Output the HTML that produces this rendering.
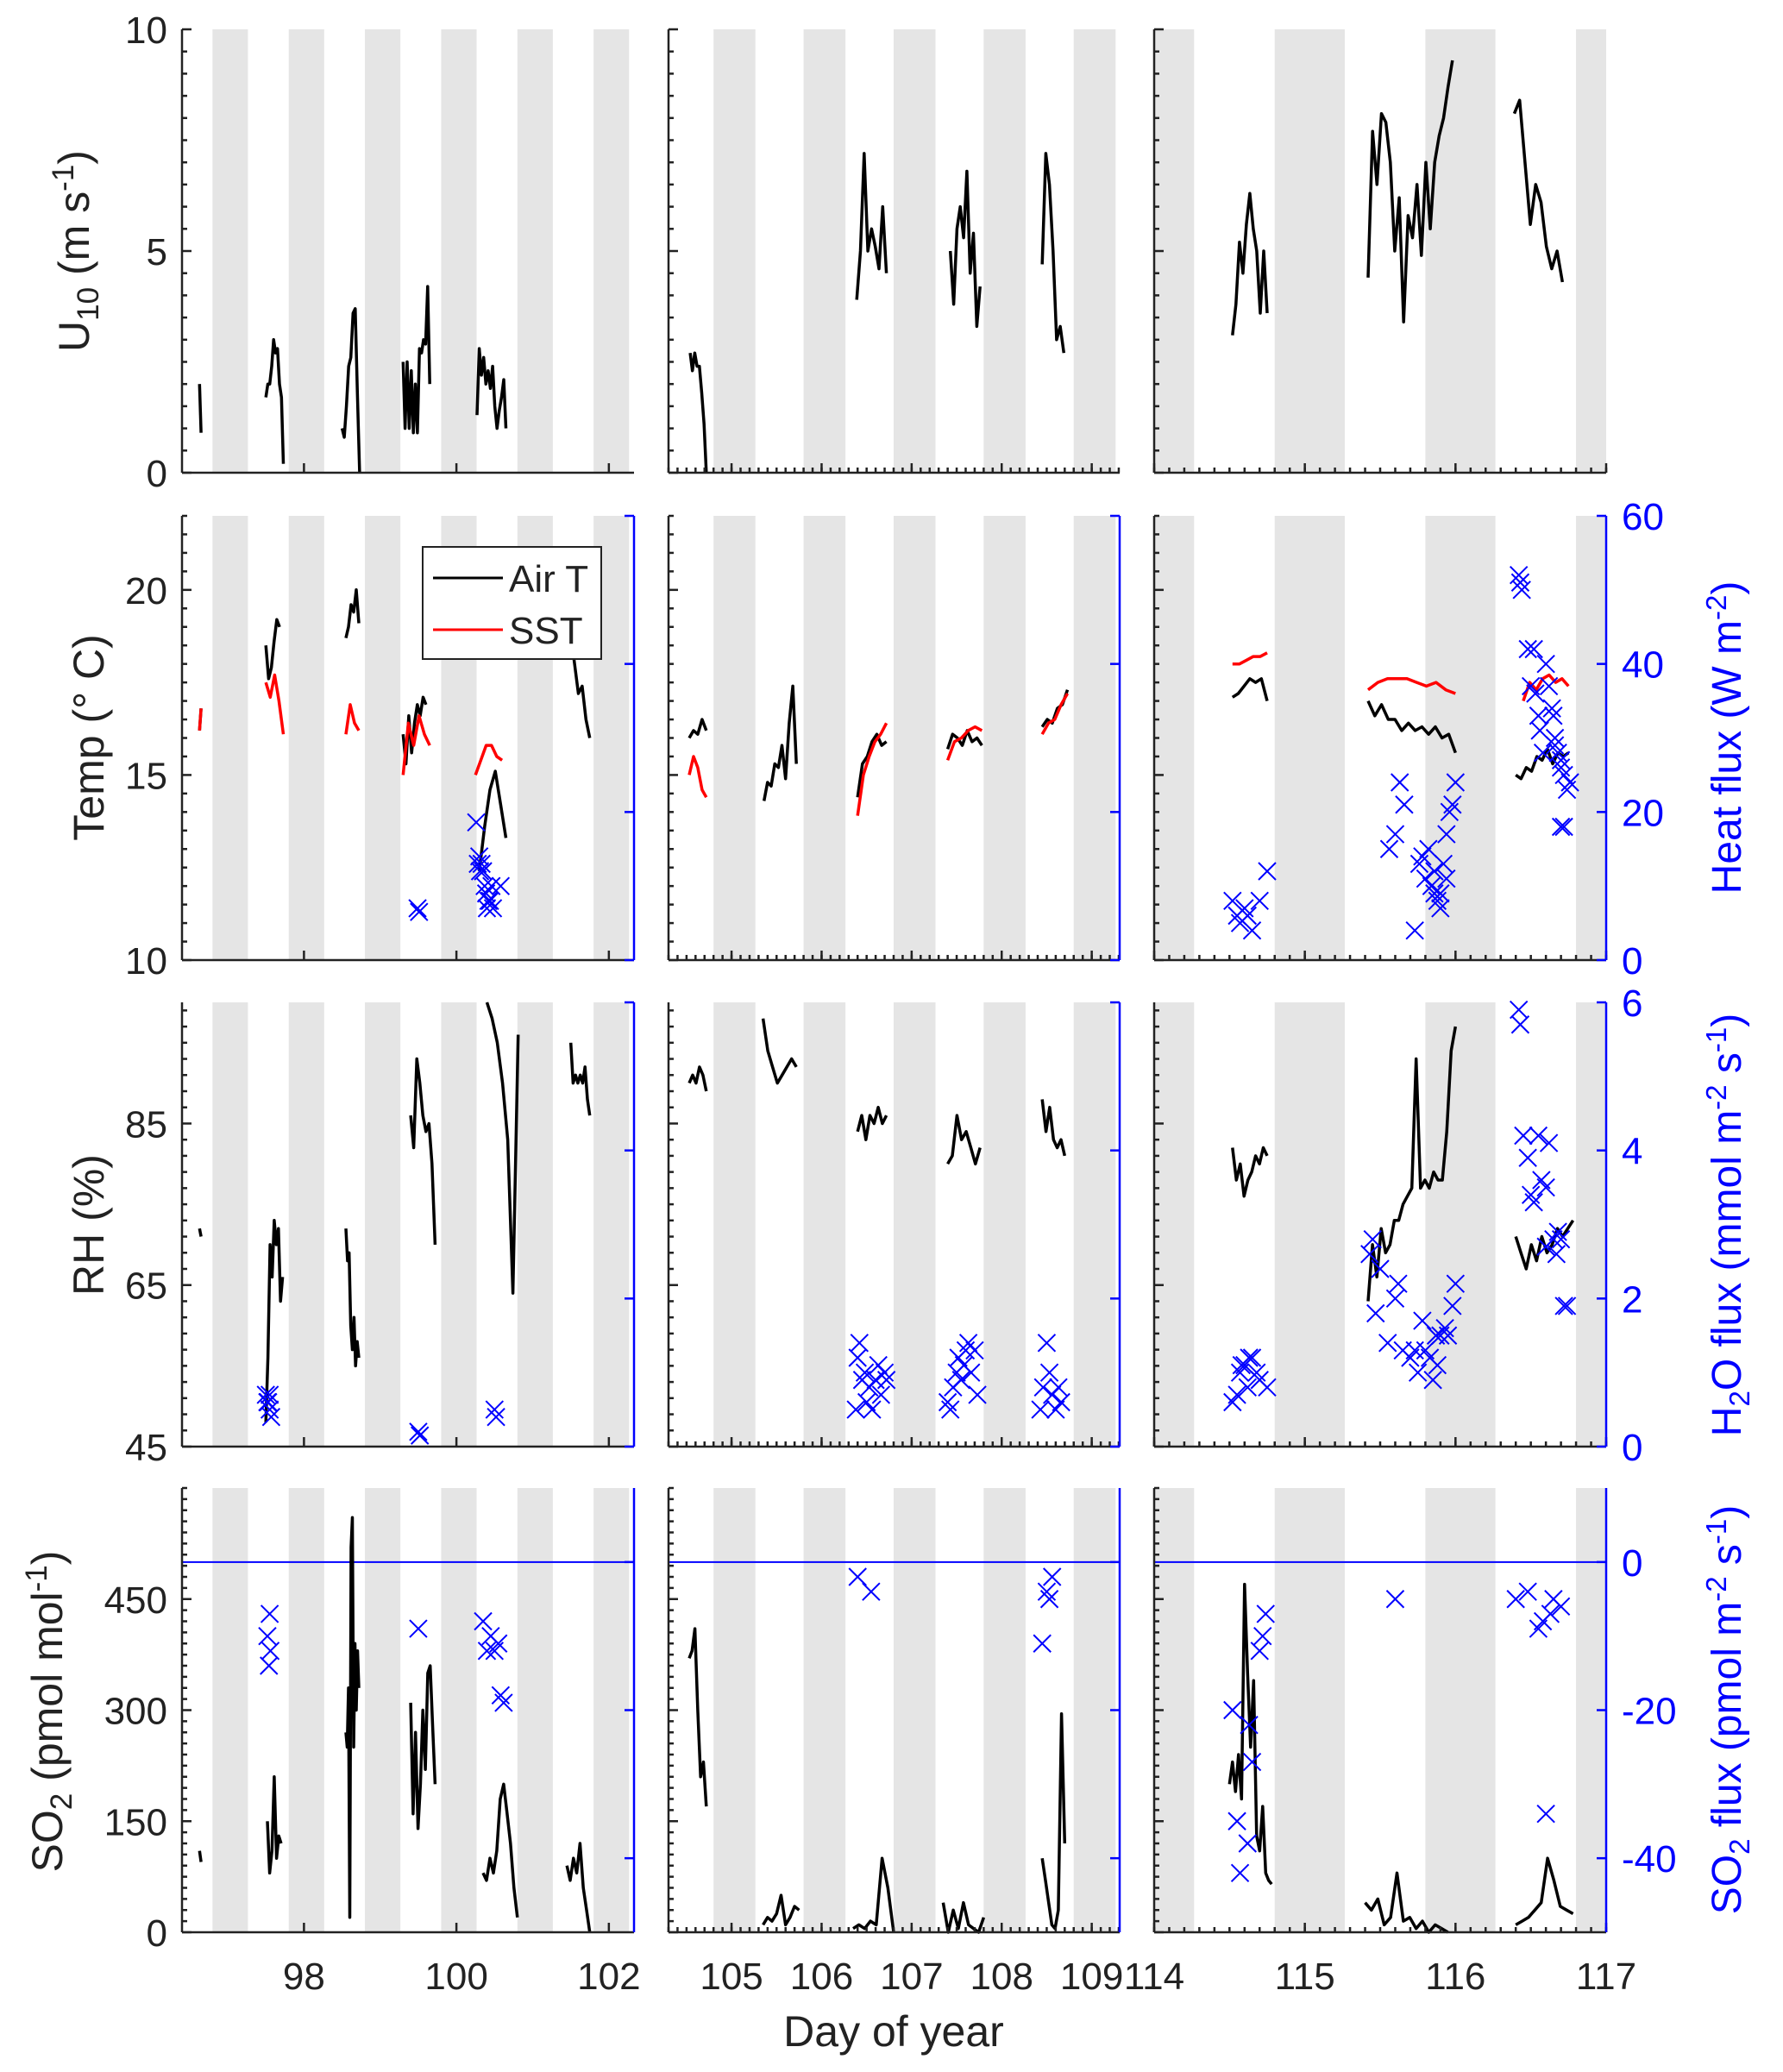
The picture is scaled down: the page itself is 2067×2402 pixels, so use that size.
<!DOCTYPE html>
<html><head><meta charset="utf-8"><style>
html,body{margin:0;padding:0;background:#fff}
svg{display:block;font-family:"Liberation Sans",Arial,sans-serif}
</style></head><body>
<svg id="fig" width="2067" height="2402" viewBox="0 0 2067 2402" xmlns="http://www.w3.org/2000/svg"></svg>
<script>
// ---- data: segments [startDay, endDay, values] ----
const u10Col1 = [[96.63,96.65,[2.0,0.9]],[97.5,97.73,[1.7,2.0,2.0,2.4,3.0,2.7,2.8,2.0,1.7,0.2]],[98.5,98.73,[1.0,0.8,1.5,2.4,2.6,3.6,3.7,1.8,0]],[99.3,99.65,[2.5,1.0,2.5,1.0,2.3,0.9,2.0,0.9,2.8,2.7,3.0,2.9,4.2,2.0]],[100.27,100.65,[1.3,2.8,2.2,2.6,2.0,2.3,1.9,2.4,1.5,1.0,1.4,1.7,2.1,1.0]]];
const u10Col2 = [[104.54,104.72,[2.7,2.3,2.7,2.4,2.4,1.8,1.1,0.0]],[106.39,106.72,[3.9,5.0,7.2,5.0,5.5,5.1,4.6,6.0,4.5]],[107.43,107.76,[5.0,3.8,5.5,6.0,5.3,6.8,4.5,5.4,3.3,4.2]],[108.45,108.69,[4.7,7.2,6.5,5.0,3.0,3.3,2.7]]];
const u10Col3 = [[114.52,114.75,[3.1,3.8,5.2,4.5,5.6,6.3,5.5,5.0,3.6,5.0,3.6]],[115.42,115.98,[4.4,7.7,6.5,8.1,7.9,7.0,5.0,6.2,3.4,5.8,5.3,6.5,4.9,7.0,5.5,7.0,7.6,8.0,8.7,9.3]],[116.39,116.71,[8.1,8.4,7.0,5.6,6.5,6.1,5.1,4.6,5.0,4.3]]];

const airCol1 = [[96.63,96.65,[16.2,16.8]],[97.5,97.68,[18.5,17.6,17.9,18.6,19.2,19.0]],[98.55,98.72,[18.7,19.0,19.6,19.4,20.0,19.1]],[99.3,99.6,[16.1,15.3,16.6,15.6,16.4,16.9,16.6,17.1,16.9]],[100.3,100.65,[12.4,13.6,14.6,15.1,14.2,13.3]],[101.5,101.75,[18.8,18.0,17.2,17.4,16.5,16.0]]];
const sstCol1 = [[96.63,96.65,[16.2,16.8]],[97.5,97.73,[17.5,17.1,17.7,17.0,16.1]],[98.55,98.72,[16.1,16.9,16.4,16.2]],[99.3,99.65,[15.0,16.4,15.8,16.6,16.1,15.8]],[100.25,100.6,[15.0,15.4,15.8,15.8,15.5,15.4]]];
const airCol2 = [[104.53,104.72,[16.0,16.2,16.1,16.5,16.2]],[105.36,105.72,[14.3,14.8,14.7,15.3,15.2,15.8,14.9,16.4,17.4,15.3]],[106.4,106.72,[14.4,15.3,15.5,15.9,16.1,15.8,15.9]],[107.4,107.78,[15.7,16.1,16.0,15.8,16.2,15.9,16.0,15.8]],[108.45,108.73,[16.3,16.5,16.4,16.8,16.9,17.3]]];
const sstCol2 = [[104.53,104.72,[15.0,15.5,15.2,14.6,14.4]],[106.4,106.72,[13.9,15.0,15.5,15.9,16.1,16.4]],[107.4,107.78,[15.4,15.9,16.0,16.2,16.3,16.2]],[108.45,108.73,[16.1,16.4,16.5,16.9,17.2]]];
const airCol3 = [[114.52,114.75,[17.1,17.2,17.4,17.6,17.5,17.6,17.0]],[115.42,116.0,[17.0,16.6,16.9,16.5,16.5,16.2,16.4,16.2,16.3,16.1,16.3,16.0,16.1,15.6]],[116.4,116.75,[15.0,14.9,15.2,15.1,15.5,15.4,15.7,15.3,15.6,15.5,15.6]]];
const sstCol3 = [[114.52,114.75,[18.0,18.0,18.1,18.2,18.2,18.3]],[115.42,116.0,[17.3,17.5,17.6,17.6,17.6,17.5,17.4,17.5,17.3,17.2]],[116.45,116.75,[17.0,17.5,17.3,17.6,17.7,17.5,17.6,17.4]]];
const heatCol1 = [[99.49,7],[99.51,6.5],[100.26,18.6],[100.28,13],[100.3,14],[100.31,12],[100.33,13],[100.35,12],[100.37,10],[100.39,9],[100.4,7],[100.42,8],[100.44,8],[100.46,10],[100.48,7],[100.58,10]];
const heatCol2 = [];
const heatCol3 = [[114.52,8],[114.55,6],[114.57,5],[114.6,7],[114.62,6],[114.65,4],[114.7,8],[114.75,12],[115.56,15],[115.6,17],[115.63,24],[115.66,21],[115.73,4],[115.76,13],[115.78,14],[115.8,11],[115.82,15],[115.84,10],[115.86,12],[115.88,8],[115.9,9],[115.92,13],[115.94,17],[115.96,20],[115.98,21],[116.0,24],[115.86,9],[115.9,7],[115.94,11],[116.42,52],[116.43,51],[116.44,50],[116.48,42],[116.52,42],[116.5,37],[116.53,36],[116.55,33],[116.56,31],[116.58,28],[116.6,40],[116.62,37],[116.64,34],[116.65,33],[116.66,30],[116.68,28],[116.7,26],[116.72,25],[116.74,23],[116.76,24],[116.7,18],[116.72,18],[116.66,29],[116.7,27]];

const rhCol1 = [[96.63,96.65,[72,71]],[97.5,97.72,[48,56,70,66,73,70,72,63,66]],[98.55,98.72,[72,68,69,60,57,61,55,58,56]],[99.4,99.72,[86,82,93,90,86,84,85,80,70]],[100.4,100.81,[100,98,95,90,83,64,96]],[101.5,101.75,[95,90,91,90,91,90,92,88,86]]];
const rhCol2 = [[104.53,104.72,[90,91,90,92,91,89]],[105.35,105.72,[98,94,92,90,91,92,93,92]],[106.4,106.72,[84,86,83,86,85,87,85,86]],[107.4,107.76,[80,81,86,83,84,82,80,82]],[108.45,108.7,[88,84,87,83,82,83,81]]];
const rhCol3 = [[114.52,114.75,[82,78,80,76,78,79,81,80,82,81]],[115.42,116.0,[63,70,66,72,69,70,73,73,75,76,77,93,77,78,77,79,78,78,84,94,97]],[116.4,116.78,[71,69,67,70,68,71,69,70,72,71,72,73]]];
const h2oCol1 = [[97.5,0.7],[97.52,0.6],[97.55,0.5],[97.57,0.4],[97.55,0.7],[97.53,0.6],[99.5,0.2],[99.52,0.15],[100.5,0.5],[100.52,0.4]];
const h2oCol2 = [[106.38,0.5],[106.4,1.2],[106.42,1.4],[106.45,0.9],[106.48,1.0],[106.5,0.6],[106.53,0.8],[106.56,0.5],[106.6,0.9],[106.63,1.1],[106.66,0.7],[106.7,1.0],[106.72,0.9],[107.4,0.6],[107.43,0.5],[107.46,0.8],[107.5,1.0],[107.52,1.2],[107.55,0.9],[107.58,1.1],[107.6,1.3],[107.63,1.4],[107.66,1.0],[107.7,1.3],[107.73,0.7],[108.43,0.5],[108.46,0.8],[108.5,1.4],[108.53,1.0],[108.56,0.7],[108.6,0.5],[108.63,0.8],[108.66,0.6]];
const h2oCol3 = [[114.52,0.6],[114.55,0.7],[114.57,1.0],[114.6,1.1],[114.62,0.8],[114.65,1.2],[114.68,1.0],[114.7,0.9],[114.75,0.8],[114.58,1.1],[114.63,1.2],[115.43,2.6],[115.45,2.8],[115.47,1.8],[115.5,2.4],[115.55,1.4],[115.6,2.0],[115.62,2.2],[115.65,1.3],[115.7,1.2],[115.73,1.3],[115.75,1.0],[115.78,1.7],[115.8,1.3],[115.85,0.9],[115.88,1.1],[115.9,1.5],[115.93,1.6],[115.95,1.5],[115.98,1.9],[116.0,2.2],[115.87,1.5],[115.83,1.2],[116.42,5.9],[116.43,5.7],[116.45,4.2],[116.48,3.9],[116.5,3.4],[116.52,3.3],[116.55,4.2],[116.57,3.6],[116.6,3.5],[116.62,4.1],[116.65,2.8],[116.67,2.6],[116.7,2.8],[116.72,1.9],[116.74,1.9],[116.6,2.7],[116.68,2.9]];

const so2Col1 = [[96.63,96.65,[110,95]],[97.52,97.7,[150,80,110,210,100,130,120]],[98.55,98.72,[270,250,330,20,520,560,250,390,300,380,330]],[99.4,99.72,[310,160,270,140,200,300,220,350,360,280,200]],[100.35,100.8,[80,70,100,80,110,180,200,160,120,60,20]],[101.45,101.75,[90,70,100,80,120,60,30,0]]];
const so2Col2 = [[104.53,104.72,[370,380,410,300,210,230,170]],[105.35,105.75,[10,20,15,25,50,10,20,35,30]],[106.35,106.8,[5,10,5,15,10,100,60,0]],[107.35,107.8,[40,0,30,5,40,10,5,0,20]],[108.45,108.7,[100,70,40,10,5,30,295,120]]];
const so2Col3 = [[114.5,114.78,[200,230,190,240,180,470,350,250,340,130,110,170,80,70,65]],[115.4,115.95,[40,30,45,10,20,80,15,20,5,15,0,10,5,0]],[116.4,116.78,[10,15,20,30,40,100,70,35,30,25]]];
const so2FluxCol1 = [[97.55,-7],[97.52,-10],[97.56,-12],[97.54,-14],[99.5,-9],[100.35,-8],[100.4,-12],[100.45,-10],[100.5,-12],[100.55,-11],[100.58,-18],[100.62,-19]];
const so2FluxCol2 = [[106.4,-2],[106.55,-4],[108.45,-11],[108.5,-4],[108.53,-5],[108.56,-2]];
const so2FluxCol3 = [[114.52,-20],[114.55,-35],[114.57,-42],[114.63,-22],[114.65,-27],[114.62,-38],[114.7,-12],[114.72,-10],[114.74,-7],[115.6,-5],[116.4,-5],[116.48,-4],[116.55,-9],[116.58,-8],[116.63,-7],[116.65,-5],[116.7,-6],[116.6,-34]];

const leftTicks = [[0,5,10],[10,15,20],[45,65,85],[0,150,300,450]];
const rightTicks = [null,[0,20,40,60],[0,2,4,6],[-40,-20,0]];
const col1Ticks = [98,100,102];
const col2Ticks = [105,106,107,108,109];
const col3Ticks = [114,115,116,117];

// ---- layout ----
const NS="http://www.w3.org/2000/svg";
const svg=document.getElementById('fig');
function mk(tag,attrs,parent){const e=document.createElementNS(NS,tag);for(const k in attrs)e.setAttribute(k,attrs[k]);(parent||svg).appendChild(e);return e;}
const cols=[{d0:96.4,d1:102.33,x0:211,x1:735,ticks:col1Ticks,minor:false},{d0:104.3,d1:109.31,x0:775,x1:1298,ticks:col2Ticks,minor:true},{d0:114,d1:117,x0:1338,x1:1862,ticks:col3Ticks,minor:true}];
const rows=[{y0:34,y1:548,min:0,max:10,mstep:0.5},{y0:598,y1:1113,min:10,max:22,mstep:0.5,rmin:0,rmax:60},{y0:1162,y1:1677,min:45,max:100,mstep:2,rmin:0,rmax:6},{y0:1725,y1:2240,min:0,max:600,mstep:15,rmin:-50,rmax:10}];
function xs(c,d){return c.x0+(d-c.d0)/(c.d1-c.d0)*(c.x1-c.x0);}
function ys(r,v){return r.y1-(v-r.min)/(r.max-r.min)*(r.y1-r.y0);}
function yr(r,v){return r.y1-(v-r.rmin)/(r.rmax-r.rmin)*(r.y1-r.y0);}

const lineData=[[u10Col1,u10Col2,u10Col3],[airCol1,airCol2,airCol3],[rhCol1,rhCol2,rhCol3],[so2Col1,so2Col2,so2Col3]];
const sstData=[sstCol1,sstCol2,sstCol3];
const scatData=[null,[heatCol1,heatCol2,heatCol3],[h2oCol1,h2oCol2,h2oCol3],[so2FluxCol1,so2FluxCol2,so2FluxCol3]];
const rowNames=['u10','temp','rh','so2'];

rows.forEach((r,ri)=>{cols.forEach((c,ci)=>{
  const g=mk('g',{});
  
  
  for(let d=Math.floor(c.d0)-1; d<=c.d1; d++){
    const a=Math.max(c.d0,d+0.8), b=Math.min(c.d1,d+1.265);
    if(b>a){const s=mk('rect',{x:xs(c,a),y:r.y0,width:xs(c,b)-xs(c,a),height:r.y1-r.y0,fill:'#e5e5e5'},g);
      
      }
  }
  if(ri===3){const z=mk('line',{x1:c.x0,x2:c.x1,y1:yr(r,0),y2:yr(r,0),stroke:'#0000ff','stroke-width':2},g);
    
    }
  const drawSegs=(segs,color,name)=>{segs.forEach(s=>{const[t0,t1,v]=s;const n=v.length;
    const pts=v.map((val,i)=>xs(c,n>1?t0+(t1-t0)*i/(n-1):t0).toFixed(1)+','+ys(r,val).toFixed(1)).join(' ');
    const p=mk('polyline',{points:pts,fill:'none',stroke:color,'stroke-width':3.5,'stroke-linejoin':'round'},g);
    
    });};
  drawSegs(lineData[ri][ci],'#000',ri===1?'air-t-line':rowNames[ri]+'-line');
  if(ri===1) drawSegs(sstData[ci],'#ff0000','sst-line');
  if(scatData[ri]){scatData[ri][ci].forEach(p=>{const x=xs(c,p[0]),y=yr(r,p[1]),h=10;
    const m=mk('path',{d:`M${x-h},${y-h}L${x+h},${y+h}M${x-h},${y+h}L${x+h},${y-h}`,stroke:'#0000ff','stroke-width':2,fill:'none'},g);
    
    });}
  const ax=mk('g',{stroke:'#222','stroke-width':2.5,fill:'none'},g);
  
  
  mk('line',{x1:c.x0,x2:c.x1,y1:r.y1,y2:r.y1},ax);
  mk('line',{x1:c.x0,x2:c.x0,y1:r.y0,y2:r.y1},ax);
  for(let v=r.min; v<=r.max+1e-6; v+=r.mstep){const y=ys(r,v);const major=leftTicks[ri].some(t=>Math.abs(t-v)<1e-6);
    mk('line',{x1:c.x0,x2:c.x0+(major?11:6),y1:y,y2:y},ax);}
  c.ticks.forEach(t=>{const x=xs(c,t);mk('line',{x1:x,x2:x,y1:r.y1,y2:r.y1-11},ax);});
  if(c.minor){for(let t=Math.ceil(c.d0*10);t<=c.d1*10;t++){const x=xs(c,t/10);mk('line',{x1:x,x2:x,y1:r.y1,y2:r.y1-6},ax);}}
  if(ri>0){const rx=mk('g',{stroke:'#0000ff','stroke-width':2.5},g);
    
    
    mk('line',{x1:c.x1,x2:c.x1,y1:r.y0,y2:r.y1},rx);
    rightTicks[ri].forEach(t=>{const y=yr(r,t);mk('line',{x1:c.x1,x2:c.x1-11,y1:y,y2:y},rx);
      if(ci===2){const tl=mk('text',{x:1880,y:y+16,fill:'#0000ff',stroke:'none','font-size':44},svg);tl.textContent=t;
        
        }});}
  if(ci===0){leftTicks[ri].forEach(t=>{const tl=mk('text',{x:194,y:ys(r,t)+16,'text-anchor':'end',fill:'#222','font-size':44});tl.textContent=t;
    
    });}
  if(ri===3){c.ticks.forEach(t=>{const tl=mk('text',{x:xs(c,t),y:2306,'text-anchor':'middle',fill:'#222','font-size':44});tl.textContent=t;
    
    });}
});});
</script>
<svg style="position:absolute;left:0;top:0" width="2067" height="2402" viewBox="0 0 2067 2402" xmlns="http://www.w3.org/2000/svg" font-family="Liberation Sans, Arial, sans-serif">
  <g>
    <rect x="490" y="634" width="207" height="130" fill="#fff" stroke="#222" stroke-width="2"/>
    <line x1="502" y1="670" x2="583" y2="670" stroke="#000" stroke-width="3"/>
    <text x="590" y="686" font-size="44" fill="#222">Air T</text>
    <line x1="502" y1="730" x2="583" y2="730" stroke="#ff0000" stroke-width="3"/>
    <text x="590" y="746" font-size="44" fill="#222">SST</text>
  </g>
  <text transform="translate(103,291) rotate(-90)" text-anchor="middle" font-size="50" fill="#222">U<tspan font-size="35" dy="11">10</tspan><tspan dy="-11"> (m s</tspan><tspan font-size="35" dy="-18">-1</tspan><tspan dy="18">)</tspan></text>
  <text transform="translate(120,855) rotate(-90)" text-anchor="middle" font-size="50" fill="#222">Temp (° C)</text>
  <text transform="translate(120,1420) rotate(-90)" text-anchor="middle" font-size="50" fill="#222">RH (%)</text>
  <text transform="translate(72,1984) rotate(-90)" text-anchor="middle" font-size="50" fill="#222">SO<tspan font-size="35" dy="11">2</tspan><tspan dy="-11"> (pmol mol</tspan><tspan font-size="35" dy="-18">-1</tspan><tspan dy="18">)</tspan></text>
  <text transform="translate(2018,855) rotate(-90)" text-anchor="middle" font-size="48" fill="#0000ff">Heat flux (W m<tspan font-size="33" dy="-17">-2</tspan><tspan dy="17">)</tspan></text>
  <text transform="translate(2018,1420) rotate(-90)" text-anchor="middle" font-size="48" fill="#0000ff">H<tspan font-size="33" dy="10">2</tspan><tspan dy="-10">O flux (mmol m</tspan><tspan font-size="33" dy="-17">-2</tspan><tspan dy="17"> s</tspan><tspan font-size="33" dy="-17">-1</tspan><tspan dy="17">)</tspan></text>
  <text transform="translate(2018,1982) rotate(-90)" text-anchor="middle" font-size="48" fill="#0000ff">SO<tspan font-size="33" dy="10">2</tspan><tspan dy="-10"> flux (pmol m</tspan><tspan font-size="33" dy="-17">-2</tspan><tspan dy="17"> s</tspan><tspan font-size="33" dy="-17">-1</tspan><tspan dy="17">)</tspan></text>
  <text x="1036" y="2372" text-anchor="middle" font-size="50" fill="#222">Day of year</text>
</svg>
</body></html>
